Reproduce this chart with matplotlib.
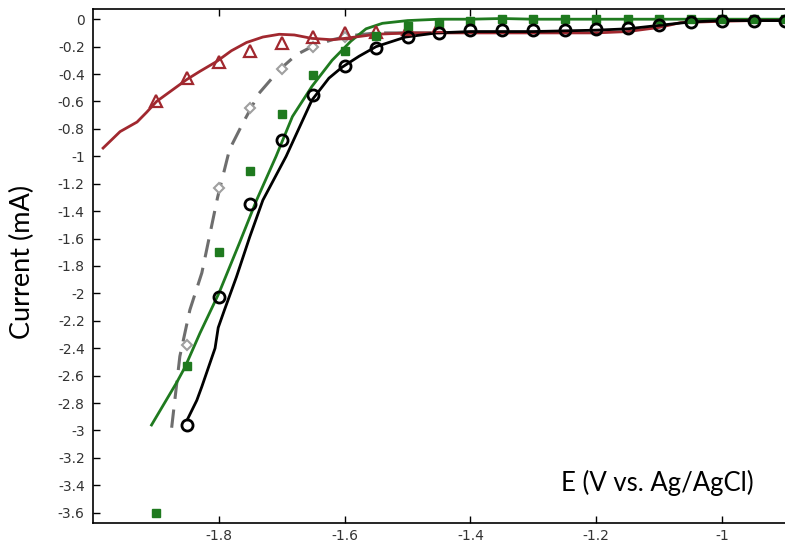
import matplotlib
matplotlib.use("Agg")
import matplotlib.pyplot as plt
import numpy as np

# ---- data ----
red_x = [-1.984, -1.957, -1.93, -1.915, -1.899, -1.875, -1.851, -1.83, -1.804, -1.78,
         -1.756, -1.73, -1.704, -1.68, -1.652, -1.62, -1.6, -1.55, -1.5, -1.4,
         -1.3, -1.2, -1.15, -1.1, -1.066, -1.0, -0.95, -0.9]
red_y = [-0.94, -0.82, -0.75, -0.68, -0.60, -0.52, -0.44, -0.38, -0.31, -0.23,
         -0.17, -0.13, -0.11, -0.115, -0.14, -0.15, -0.14, -0.11, -0.10, -0.10,
         -0.10, -0.10, -0.09, -0.06, -0.025, -0.015, -0.01, -0.01]
tri_x = [-1.9, -1.85, -1.8, -1.75, -1.7, -1.65, -1.6, -1.55, -1.5, -1.45]
tri_y = [-0.60, -0.43, -0.31, -0.23, -0.17, -0.13, -0.10, -0.09, -0.07, -0.05]

gray_x = [-1.875, -1.862, -1.846, -1.827, -1.802, -1.783, -1.762, -1.736, -1.704,
          -1.677, -1.652, -1.62, -1.59, -1.55, -1.5, -1.45]
gray_y = [-2.98, -2.46, -2.12, -1.85, -1.30, -0.95, -0.76, -0.54, -0.37,
          -0.26, -0.20, -0.15, -0.12, -0.10, -0.10, -0.10]
dia_x = [-1.85, -1.8, -1.75, -1.7, -1.65, -1.6]
dia_y = [-2.38, -1.23, -0.65, -0.36, -0.20, -0.13]

green_x = [-1.907, -1.867, -1.854, -1.83, -1.80, -1.767, -1.74, -1.709, -1.683,
           -1.652, -1.62, -1.59, -1.566, -1.54, -1.5, -1.45, -1.4, -1.35, -1.3,
           -1.2, -1.1, -1.0, -0.9]
green_y = [-2.96, -2.65, -2.54, -2.29, -2.0, -1.63, -1.32, -1.0, -0.71,
           -0.49, -0.30, -0.16, -0.07, -0.03, -0.01, 0.0, 0.0, 0.005, 0.0,
           0.0, 0.0, 0.0, 0.0]
sq_x = [-1.9, -1.85, -1.8, -1.75, -1.7, -1.65, -1.6, -1.55, -1.5, -1.45, -1.4,
        -1.35, -1.3, -1.25, -1.2, -1.15, -1.1, -1.05, -1.0, -0.95, -0.9]
sq_y = [-3.6, -2.53, -1.70, -1.11, -0.69, -0.41, -0.23, -0.12, -0.05, -0.03, -0.01,
        0.0, 0.0, 0.0, 0.0, 0.0, 0.0, 0.0, 0.0, 0.0, 0.0]

black_x = [-1.85, -1.835, -1.827, -1.806, -1.801, -1.791, -1.772, -1.751, -1.73,
           -1.693, -1.672, -1.652, -1.625, -1.604, -1.577, -1.55, -1.503, -1.454,
           -1.4, -1.3, -1.2, -1.15, -1.1, -1.05, -1.0, -0.9]
black_y = [-2.92, -2.78, -2.68, -2.40, -2.25, -2.12, -1.88, -1.59, -1.32,
           -1.0, -0.79, -0.59, -0.43, -0.35, -0.27, -0.20, -0.13, -0.10,
           -0.09, -0.09, -0.08, -0.07, -0.045, -0.02, -0.01, -0.01]
circ_x = [-1.85, -1.8, -1.75, -1.7, -1.65, -1.6, -1.55, -1.5, -1.45, -1.4, -1.35,
          -1.3, -1.25, -1.2, -1.15, -1.1, -1.05, -1.0, -0.95, -0.9]
circ_y = [-2.96, -2.03, -1.35, -0.88, -0.55, -0.34, -0.21, -0.13, -0.10, -0.08, -0.08,
          -0.08, -0.08, -0.07, -0.065, -0.045, -0.02, -0.01, -0.01, -0.01]

xticks = [-1.8, -1.6, -1.4, -1.2, -1.0]
yticks = np.round(np.arange(0, -3.61, -0.2), 1)

red = "#a1282f"
green = "#1f7a1f"

fig = plt.figure(figsize=(7.85, 5.44), dpi=100)
ax = fig.add_axes([0.1185, 0.0386, 0.8815, 0.945])

ax.plot(gray_x, gray_y, color="#6e6e6e", lw=2.2, dashes=(6, 3.5), zorder=2)
ax.plot(dia_x, dia_y, ls="none", marker="D", ms=5.5, mfc="white", mec="#a0a0a0",
        mew=1.5, zorder=3)
ax.plot(green_x, green_y, color=green, lw=2, zorder=2)
ax.plot(red_x, red_y, color=red, lw=2, zorder=3)
ax.plot(tri_x, tri_y, ls="none", marker="^", ms=8, mfc="none", mec=red,
        mew=1.6, zorder=4)
ax.plot(black_x, black_y, color="black", lw=2, zorder=3)
ax.plot(sq_x, sq_y, ls="none", marker="s", ms=5.5, color=green, zorder=5)
ax.plot(circ_x, circ_y, ls="none", marker="o", ms=8, mfc="none", mec="black",
        mew=2, zorder=6)

ax.set_xlim(-2.0, -0.9)
ax.set_ylim(-3.675, 0.075)
ax.set_xticks(xticks)
ax.set_xticklabels(["-1.8", "-1.6", "-1.4", "-1.2", "-1"])
ax.set_yticks(yticks)
ax.set_yticklabels(["0"] + ["%g" % v for v in yticks[1:]])
ax.tick_params(axis="both", direction="in", labelsize=10, labelcolor="#333333",
               length=5, width=1, top=True)
ax.tick_params(axis="x", pad=4)
ax.tick_params(axis="y", pad=6)
ax.spines["right"].set_visible(False)
for s in ["left", "top", "bottom"]:
    ax.spines[s].set_linewidth(1.2)

ax.text(0.815, 0.078, "E (V vs. Ag/AgCl)", transform=ax.transAxes,
        ha="center", va="center", fontsize=18.5, family="Lato")
fig.text(0.028, 0.518, "Current (mA)", rotation=90, ha="center", va="center",
         fontsize=19.5, family="Lato")

fig.savefig("out.png", dpi=100)
